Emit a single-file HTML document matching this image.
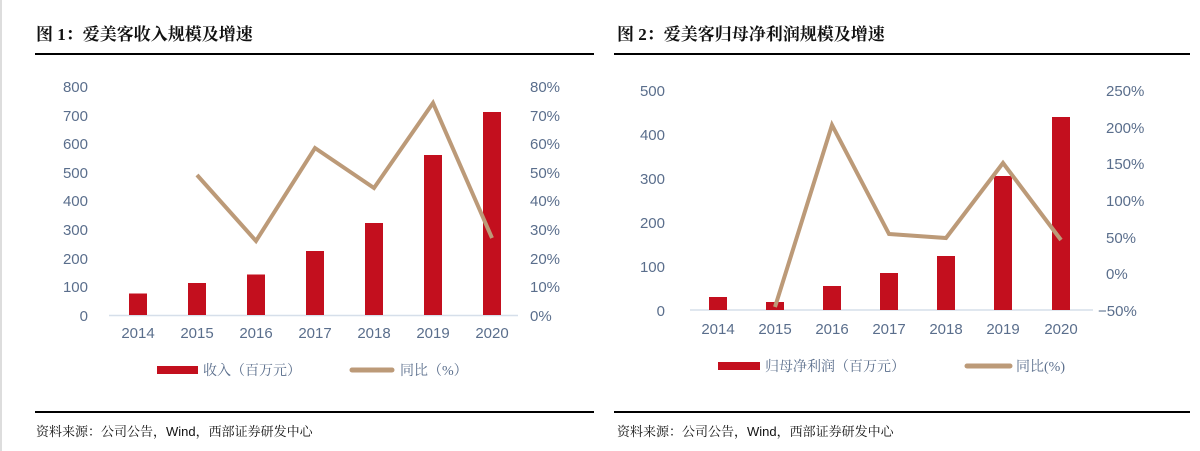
<!DOCTYPE html>
<html><head><meta charset="utf-8"><style>
html,body{margin:0;padding:0;background:#fff;}
svg{display:block;}
.t{font-family:"Liberation Serif","Noto Serif CJK SC",serif;font-size:17px;fill:#111;font-weight:bold;}
.a{font-family:"Liberation Sans","Noto Sans CJK SC",sans-serif;font-size:15px;fill:#5a6e8c;}
.l{font-family:"Liberation Serif","Noto Serif CJK SC",serif;font-size:14px;fill:#5a6e8c;}
.s{font-family:"Liberation Sans","Noto Serif CJK SC",serif;font-size:13px;fill:#111;}
</style></head><body>
<svg width="1200" height="451" xmlns="http://www.w3.org/2000/svg">
<rect x="0" y="0" width="2" height="451" fill="#ddd"/>
<!-- Panel 1 -->
<text class="t" x="36" y="40">图 1：爱美客收入规模及增速</text>
<line x1="35" y1="54" x2="594" y2="54" stroke="#000" stroke-width="2"/>
<g class="a" text-anchor="end">
<text x="88" y="92">800</text><text x="88" y="121">700</text><text x="88" y="149">600</text><text x="88" y="178">500</text><text x="88" y="206">400</text><text x="88" y="235">300</text><text x="88" y="264">200</text><text x="88" y="292">100</text><text x="88" y="321">0</text>
</g>
<g class="a">
<text x="530" y="92">80%</text><text x="530" y="121">70%</text><text x="530" y="149">60%</text><text x="530" y="178">50%</text><text x="530" y="206">40%</text><text x="530" y="235">30%</text><text x="530" y="264">20%</text><text x="530" y="292">10%</text><text x="530" y="321">0%</text>
</g>
<line x1="109" y1="315.5" x2="518" y2="315.5" stroke="#d6dfea" stroke-width="1.5"/>
<g fill="#c30f1e">
<rect x="129" y="293.5" width="18" height="21.5"/>
<rect x="188" y="283" width="18" height="32"/>
<rect x="247" y="274.5" width="18" height="40.5"/>
<rect x="306" y="251" width="18" height="64"/>
<rect x="365" y="223" width="18" height="92"/>
<rect x="424" y="155" width="18" height="160"/>
<rect x="483" y="112" width="18" height="203"/>
</g>
<polyline points="197,175 256,241 315,148 374,188 433,103 492,238" fill="none" stroke="#bc9a78" stroke-width="4" stroke-linejoin="miter"/>
<g class="a" text-anchor="middle">
<text x="138" y="338">2014</text><text x="197" y="338">2015</text><text x="256" y="338">2016</text><text x="315" y="338">2017</text><text x="374" y="338">2018</text><text x="433" y="338">2019</text><text x="492" y="338">2020</text>
</g>
<rect x="157" y="366" width="41" height="8" fill="#c30f1e"/>
<text class="l" x="203" y="375">收入（百万元）</text>
<line x1="352" y1="370" x2="392" y2="370" stroke="#bc9a78" stroke-width="5" stroke-linecap="round"/>
<text class="l" x="400" y="375">同比（%）</text>
<line x1="35" y1="412" x2="594" y2="412" stroke="#000" stroke-width="2"/>
<text class="s" x="36" y="436">资料来源：公司公告，Wind，西部证券研发中心</text>

<!-- Panel 2 -->
<text class="t" x="617" y="40">图 2：爱美客归母净利润规模及增速</text>
<line x1="614" y1="54" x2="1190" y2="54" stroke="#000" stroke-width="2"/>
<g class="a" text-anchor="end">
<text x="665" y="96">500</text><text x="665" y="140">400</text><text x="665" y="184">300</text><text x="665" y="228">200</text><text x="665" y="272">100</text><text x="665" y="316">0</text>
</g>
<g class="a">
<text x="1106" y="96">250%</text><text x="1106" y="133">200%</text><text x="1106" y="169">150%</text><text x="1106" y="206">100%</text><text x="1106" y="243">50%</text><text x="1106" y="279">0%</text><text x="1098" y="316">−50%</text>
</g>
<line x1="690" y1="310" x2="1093" y2="310" stroke="#d6dfea" stroke-width="1.5"/>
<g fill="#c30f1e">
<rect x="709" y="297" width="18" height="13"/>
<rect x="766" y="302" width="18" height="8"/>
<rect x="823" y="286" width="18" height="24"/>
<rect x="880" y="273" width="18" height="37"/>
<rect x="937" y="256" width="18" height="54"/>
<rect x="994" y="176" width="18" height="134"/>
<rect x="1052" y="117" width="18" height="193"/>
</g>
<polyline points="775,307 832,125 889,234 946,238 1003,163 1061,240" fill="none" stroke="#bc9a78" stroke-width="4"/>
<g class="a" text-anchor="middle">
<text x="718" y="334">2014</text><text x="775" y="334">2015</text><text x="832" y="334">2016</text><text x="889" y="334">2017</text><text x="946" y="334">2018</text><text x="1003" y="334">2019</text><text x="1061" y="334">2020</text>
</g>
<rect x="718" y="362" width="42" height="8" fill="#c30f1e"/>
<text class="l" x="765" y="371">归母净利润（百万元）</text>
<line x1="967" y1="366" x2="1010" y2="366" stroke="#bc9a78" stroke-width="5" stroke-linecap="round"/>
<text class="l" x="1016" y="371">同比(%)</text>
<line x1="614" y1="412" x2="1190" y2="412" stroke="#000" stroke-width="2"/>
<text class="s" x="617" y="436">资料来源：公司公告，Wind，西部证券研发中心</text>
</svg>
</body></html>
